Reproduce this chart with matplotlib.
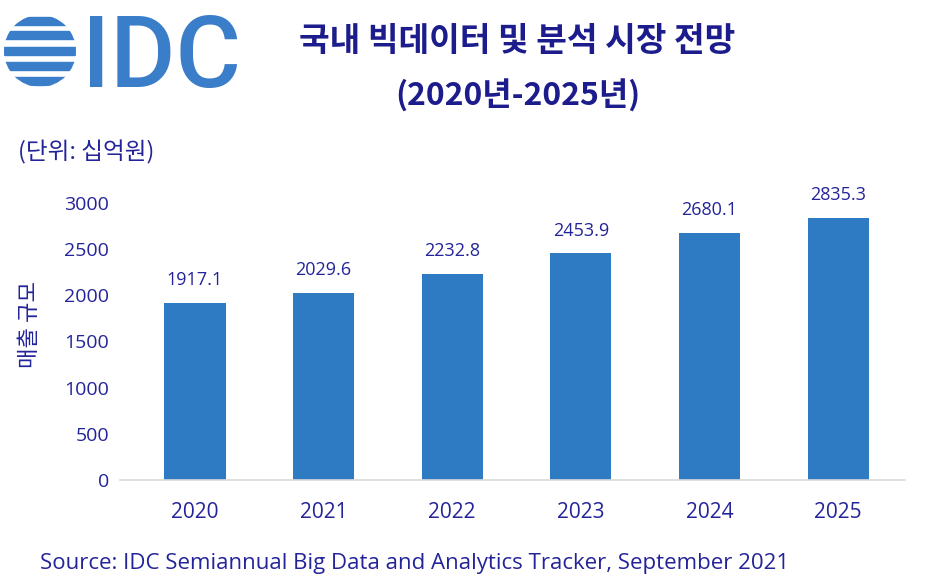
import matplotlib.pyplot as plt
from matplotlib.patches import Rectangle, Circle

years = ["2020", "2021", "2022", "2023", "2024", "2025"]
values = [1917.1, 2029.6, 2232.8, 2453.9, 2680.1, 2835.3]
yticks = [0, 500, 1000, 1500, 2000, 2500, 3000]

navy = "#24249a"
bar_color = "#2e7bc4"
logo_color = "#3a7dc9"
kfont = ["Open Sans", "Noto Sans CJK KR"]
cjk = ["Noto Sans CJK KR", "DejaVu Sans"]

W, H = 935, 585
fig = plt.figure(figsize=(W / 100, H / 100), dpi=100)

# main bar chart
ax = fig.add_axes([120 / W, 1 - 480 / H, 785 / W, 277 / H])
x = list(range(len(years)))
ax.bar(x, values, width=0.475, color=bar_color)
for i, v in enumerate(values):
    ax.annotate(f"{v:.1f}", (i, v), xytext=(0, 10), textcoords="offset points",
                ha="center", va="bottom", fontsize=13, color=navy,
                family=kfont, annotation_clip=False)
ax.set_xlim(-0.583, 5.52)
ax.set_ylim(0, 3000)
ax.set_xticks(x)
ax.set_xticklabels(years, family=kfont, fontsize=15, color=navy)
ax.set_yticks(yticks)
ax.set_yticklabels([str(t) for t in yticks], family=kfont, fontsize=14, color=navy)
ax.tick_params(axis="x", length=0, pad=16)
ax.tick_params(axis="y", length=0, pad=8)
for s in ["top", "right", "left"]:
    ax.spines[s].set_visible(False)
ax.spines["bottom"].set_color("#d9d9d9")
ax.spines["bottom"].set_linewidth(1.2)

# titles and notes
fig.text(517 / W, 1 - 42 / H, "국내 빅데이터 및 분석 시장 전망", ha="center", va="center",
         fontsize=24, fontweight="bold", color="#1c1c8c", family=cjk)
fig.text(518 / W, 1 - 96 / H, "(2020년-2025년)", ha="center", va="center",
         fontsize=23, fontweight="bold", color="#1c1c8c", family=cjk)
fig.text(18 / W, 1 - 152 / H, "(단위: 십억원)", ha="left", va="center",
         fontsize=17, color=navy, family=cjk)
fig.text(30 / W, 1 - 325 / H, "매출 규모", ha="center", va="center", rotation=90,
         fontsize=16, color=navy, family=cjk)
fig.text(40 / W, 1 - 563 / H,
         "Source: IDC Semiannual Big Data and Analytics Tracker, September 2021",
         ha="left", va="center", fontsize=16, color=navy, family=kfont)

# IDC logo
lax = fig.add_axes([0, 1 - 100 / H, 250 / W, 100 / H])
lax.set_xlim(0, 250)
lax.set_ylim(100, 0)
lax.axis("off")
globe = Circle((40, 51), 36, transform=lax.transData)
stripes = [(17, 25), (31, 39), (47, 55), (62, 70), (77, 85)]
for y0, y1 in stripes:
    r = Rectangle((0, y0), 90, y1 - y0, color=logo_color)
    lax.add_patch(r)
    r.set_clip_path(globe)
lax.text(82, 87, "IDC", ha="left", va="baseline", fontsize=72, color=logo_color,
         family="Roboto", fontweight="medium")

fig.savefig("out.png", dpi=100)
